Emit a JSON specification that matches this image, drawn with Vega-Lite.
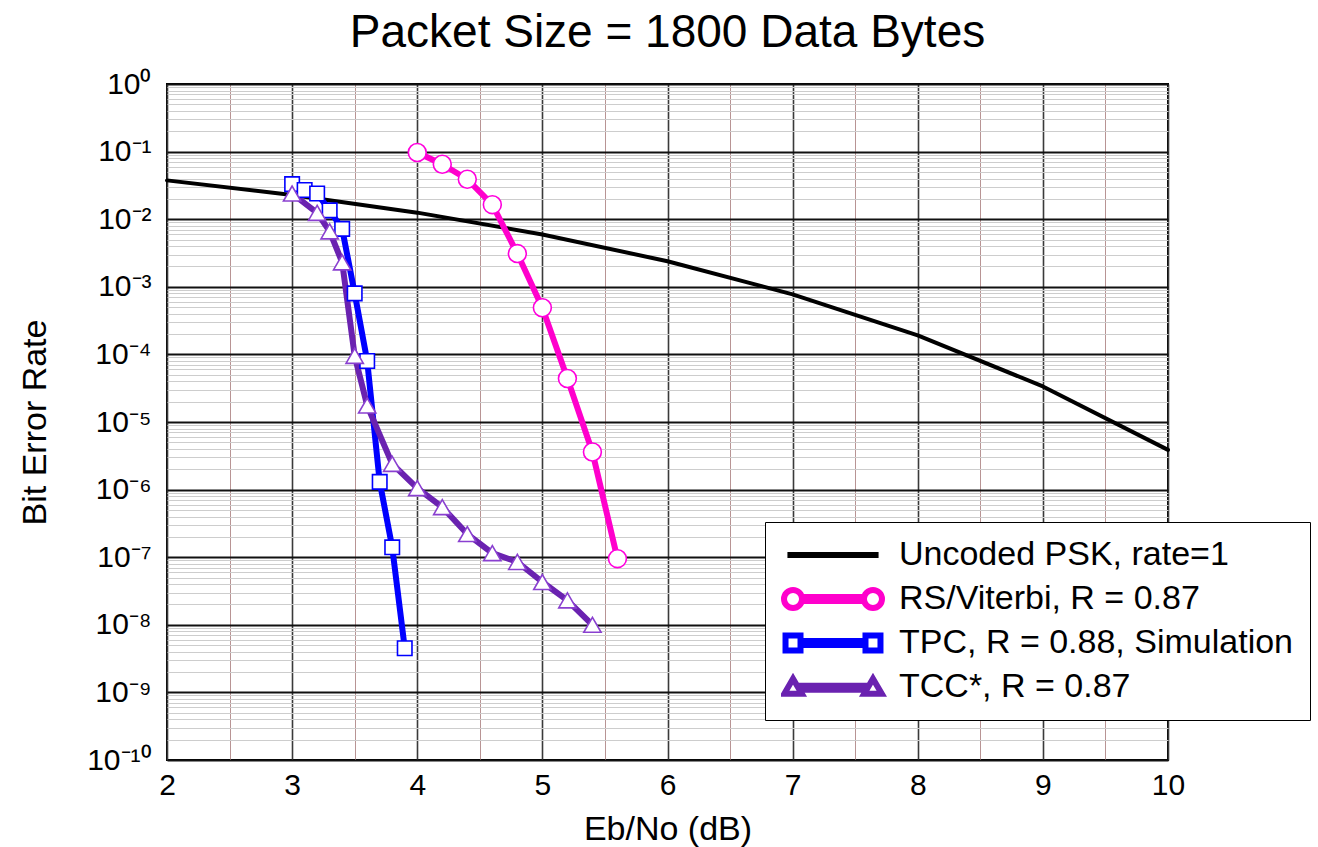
{
  "$schema": "https://vega.github.io/schema/vega-lite/v6.json",
  "width": 1001,
  "height": 676,
  "autosize": {"type": "none"},
  "padding": {"left": 167, "top": 84, "right": 150, "bottom": 87},
  "background": "white",
  "title": {
    "text": "Packet Size = 1800 Data Bytes",
    "font": "Liberation Sans",
    "fontSize": 46,
    "fontWeight": "normal",
    "color": "black",
    "anchor": "middle",
    "offset": 12
  },
  "data": {
    "values": [
      {"series": "Uncoded PSK, rate=1", "x": 2, "y": 0.03751},
      {"series": "Uncoded PSK, rate=1", "x": 3, "y": 0.02288},
      {"series": "Uncoded PSK, rate=1", "x": 4, "y": 0.0125},
      {"series": "Uncoded PSK, rate=1", "x": 5, "y": 0.005954},
      {"series": "Uncoded PSK, rate=1", "x": 6, "y": 0.002388},
      {"series": "Uncoded PSK, rate=1", "x": 7, "y": 0.0007727},
      {"series": "Uncoded PSK, rate=1", "x": 8, "y": 0.0001909},
      {"series": "Uncoded PSK, rate=1", "x": 9, "y": 0.0000336},
      {"series": "Uncoded PSK, rate=1", "x": 10, "y": 0.000003872},
      {"series": "RS/Viterbi, R = 0.87", "x": 4.0, "y": 0.097},
      {"series": "RS/Viterbi, R = 0.87", "x": 4.2, "y": 0.065},
      {"series": "RS/Viterbi, R = 0.87", "x": 4.4, "y": 0.039},
      {"series": "RS/Viterbi, R = 0.87", "x": 4.6, "y": 0.0164},
      {"series": "RS/Viterbi, R = 0.87", "x": 4.8, "y": 0.0031},
      {"series": "RS/Viterbi, R = 0.87", "x": 5.0, "y": 0.00049},
      {"series": "RS/Viterbi, R = 0.87", "x": 5.2, "y": 0.000044},
      {"series": "RS/Viterbi, R = 0.87", "x": 5.4, "y": 0.0000036},
      {"series": "RS/Viterbi, R = 0.87", "x": 5.6, "y": 9.5e-8},
      {"series": "TPC, R = 0.88, Simulation", "x": 3.0, "y": 0.033},
      {"series": "TPC, R = 0.88, Simulation", "x": 3.1, "y": 0.027},
      {"series": "TPC, R = 0.88, Simulation", "x": 3.2, "y": 0.024},
      {"series": "TPC, R = 0.88, Simulation", "x": 3.3, "y": 0.0135},
      {"series": "TPC, R = 0.88, Simulation", "x": 3.4, "y": 0.0072},
      {"series": "TPC, R = 0.88, Simulation", "x": 3.5, "y": 0.0008},
      {"series": "TPC, R = 0.88, Simulation", "x": 3.6, "y": 0.00008},
      {"series": "TPC, R = 0.88, Simulation", "x": 3.7, "y": 0.0000013},
      {"series": "TPC, R = 0.88, Simulation", "x": 3.8, "y": 1.4e-7},
      {"series": "TPC, R = 0.88, Simulation", "x": 3.9, "y": 4.5e-9},
      {"series": "TCC*, R = 0.87", "x": 3.0, "y": 0.024},
      {"series": "TCC*, R = 0.87", "x": 3.2, "y": 0.0124},
      {"series": "TCC*, R = 0.87", "x": 3.3, "y": 0.0066},
      {"series": "TCC*, R = 0.87", "x": 3.4, "y": 0.0023},
      {"series": "TCC*, R = 0.87", "x": 3.5, "y": 0.000095},
      {"series": "TCC*, R = 0.87", "x": 3.6, "y": 0.0000175},
      {"series": "TCC*, R = 0.87", "x": 3.8, "y": 0.0000024},
      {"series": "TCC*, R = 0.87", "x": 4.0, "y": 0.00000105},
      {"series": "TCC*, R = 0.87", "x": 4.2, "y": 5.5e-7},
      {"series": "TCC*, R = 0.87", "x": 4.4, "y": 2.2e-7},
      {"series": "TCC*, R = 0.87", "x": 4.6, "y": 1.15e-7},
      {"series": "TCC*, R = 0.87", "x": 4.8, "y": 8.5e-8},
      {"series": "TCC*, R = 0.87", "x": 5.0, "y": 4.3e-8},
      {"series": "TCC*, R = 0.87", "x": 5.2, "y": 2.3e-8},
      {"series": "TCC*, R = 0.87", "x": 5.4, "y": 1.0e-8}
    ]
  },
  "encoding": {
    "x": {
      "field": "x",
      "type": "quantitative",
      "scale": {"domain": [2, 10], "nice": false, "zero": false},
      "axis": {
        "title": "Eb/No (dB)",
        "values": [2, 2.5, 3, 3.5, 4, 4.5, 5, 5.5, 6, 6.5, 7, 7.5, 8, 8.5, 9, 9.5, 10],
        "labelExpr": "datum.value % 1 == 0 ? format(datum.value, 'd') : ''",
        "labelFlush": false,
        "labelOverlap": false,
        "labelPadding": 10,
        "titlePadding": 12,
        "ticks": false,
        "domain": false,
        "grid": true,
        "gridColor": {"condition": {"test": "datum.value % 1 == 0", "value": "#3a3a3a"}, "value": "#b89494"},
        "gridWidth": {"condition": {"test": "datum.value % 1 == 0", "value": 1.6}, "value": 1}
      }
    },
    "y": {
      "field": "y",
      "type": "quantitative",
      "scale": {"type": "log", "domain": [1e-10, 1], "nice": false},
      "axis": {
        "title": "Bit Error Rate",
        "values": [1e-10, 2e-10, 3e-10, 4e-10, 5e-10, 6e-10, 7e-10, 8e-10, 9e-10,
                   1e-9, 2e-9, 3e-9, 4e-9, 5e-9, 6e-9, 7e-9, 8e-9, 9e-9,
                   1e-8, 2e-8, 3e-8, 4e-8, 5e-8, 6e-8, 7e-8, 8e-8, 9e-8,
                   1e-7, 2e-7, 3e-7, 4e-7, 5e-7, 6e-7, 7e-7, 8e-7, 9e-7,
                   1e-6, 2e-6, 3e-6, 4e-6, 5e-6, 6e-6, 7e-6, 8e-6, 9e-6,
                   1e-5, 2e-5, 3e-5, 4e-5, 5e-5, 6e-5, 7e-5, 8e-5, 9e-5,
                   1e-4, 2e-4, 3e-4, 4e-4, 5e-4, 6e-4, 7e-4, 8e-4, 9e-4,
                   1e-3, 2e-3, 3e-3, 4e-3, 5e-3, 6e-3, 7e-3, 8e-3, 9e-3,
                   1e-2, 2e-2, 3e-2, 4e-2, 5e-2, 6e-2, 7e-2, 8e-2, 9e-2,
                   1e-1, 2e-1, 3e-1, 4e-1, 5e-1, 6e-1, 7e-1, 8e-1, 9e-1, 1],
        "labelExpr": "abs(datum.value / pow(10, round(log(datum.value) / LN10)) - 1) < 1e-6 ? (round(log(datum.value) / LN10) == 0 ? '10⁰' : (round(log(datum.value) / LN10) == -10 ? '10⁻¹⁰' : '10⁻' + ['⁰','¹','²','³','⁴','⁵','⁶','⁷','⁸','⁹'][-round(log(datum.value) / LN10)])) : ''",
        "labelFlush": false,
        "labelOverlap": false,
        "labelPadding": 16,
        "titlePadding": 34,
        "ticks": false,
        "domain": false,
        "grid": true,
        "gridColor": {"condition": {"test": "abs(datum.value / pow(10, round(log(datum.value) / LN10)) - 1) < 1e-6", "value": "#111111"}, "value": "#cdcdcd"},
        "gridWidth": {"condition": {"test": "abs(datum.value / pow(10, round(log(datum.value) / LN10)) - 1) < 1e-6", "value": 2}, "value": 1}
      }
    }
  },
  "layer": [
    {
      "mark": {"type": "line", "strokeJoin": "round", "strokeCap": "round"},
      "encoding": {
        "color": {
          "field": "series",
          "type": "nominal",
          "sort": null,
          "scale": {
            "domain": ["Uncoded PSK, rate=1", "RS/Viterbi, R = 0.87", "TPC, R = 0.88, Simulation", "TCC*, R = 0.87"],
            "range": ["#000000", "#ff00cc", "#0000ff", "#6a22b0"]
          },
          "legend": {
            "title": null,
            "orient": "none",
            "legendX": 598,
            "legendY": 438,
            "padding": 16,
            "rowPadding": 10,
            "fillColor": "white",
            "strokeColor": "black",
            "labelFont": "Liberation Sans",
            "labelFontSize": 34,
            "labelColor": "black",
            "labelLimit": 800,
            "labelOffset": 14,
            "symbolSize": 9604,
            "symbolStrokeWidth": 2,
            "clipHeight": 34,
            "encode": {
              "symbols": {
                "update": {
                  "fill": {"value": "white"},
                  "strokeWidth": {"value": 2},
                  "opacity": {"value": 1},
                  "shape": {"signal": "datum.value == 'Uncoded PSK, rate=1' ? 'M-0.93,-0.02L0.93,-0.02M-0.93,0.02L0.93,0.02' : datum.value == 'RS/Viterbi, R = 0.87' ? 'M-1,0A0.184,0.184 0 1,0 -0.632,0A0.184,0.184 0 1,0 -1,0ZM0.632,0A0.184,0.184 0 1,0 1,0A0.184,0.184 0 1,0 0.632,0ZM-0.632,-0.041L0.632,-0.041M-0.632,0L0.632,0M-0.632,0.041L0.632,0.041' : datum.value == 'TPC, R = 0.88, Simulation' ? 'M-0.969,-0.153L-0.663,-0.153L-0.663,0.153L-0.969,0.153ZM0.663,-0.153L0.969,-0.153L0.969,0.153L0.663,0.153ZM-0.663,-0.041L0.663,-0.041M-0.663,0L0.663,0M-0.663,0.041L0.663,0.041' : 'M-0.816,-0.17L-0.636,0.14L-0.996,0.14ZM0.816,-0.17L0.996,0.14L0.636,0.14ZM-0.7,-0.025L0.7,-0.025M-0.7,0.016L0.7,0.016M-0.7,0.057L0.7,0.057'"}
                }
              }
            }
          }
        },
        "strokeWidth": {
          "field": "series",
          "type": "nominal",
          "scale": {
            "type": "ordinal",
            "domain": ["Uncoded PSK, rate=1", "RS/Viterbi, R = 0.87", "TPC, R = 0.88, Simulation", "TCC*, R = 0.87"],
            "range": [4, 6, 6, 6]
          },
          "legend": null
        }
      }
    },
    {
      "transform": [{"filter": "datum.series != 'Uncoded PSK, rate=1'"}],
      "mark": {"type": "point", "filled": false, "fill": "white", "opacity": 1, "strokeWidth": 1.6},
      "encoding": {
        "stroke": {
          "field": "series",
          "type": "nominal",
          "scale": {
            "domain": ["RS/Viterbi, R = 0.87", "TPC, R = 0.88, Simulation", "TCC*, R = 0.87"],
            "range": ["#ff00dd", "#0000ff", "#8a40d0"]
          },
          "legend": null
        },
        "shape": {
          "field": "series",
          "type": "nominal",
          "scale": {
            "domain": ["RS/Viterbi, R = 0.87", "TPC, R = 0.88, Simulation", "TCC*, R = 0.87"],
            "range": ["circle", "square", "triangle-up"]
          },
          "legend": null
        },
        "size": {
          "field": "series",
          "type": "nominal",
          "scale": {
            "type": "ordinal",
            "domain": ["RS/Viterbi, R = 0.87", "TPC, R = 0.88, Simulation", "TCC*, R = 0.87"],
            "range": [320, 210, 300]
          },
          "legend": null
        }
      }
    }
  ],
  "config": {
    "view": {"stroke": "black", "strokeWidth": 2},
    "axis": {
      "labelFont": "Liberation Sans",
      "labelFontSize": 30,
      "labelColor": "black",
      "titleFont": "Liberation Sans",
      "titleFontSize": 34,
      "titleFontWeight": "normal",
      "titleColor": "black"
    }
  }
}
